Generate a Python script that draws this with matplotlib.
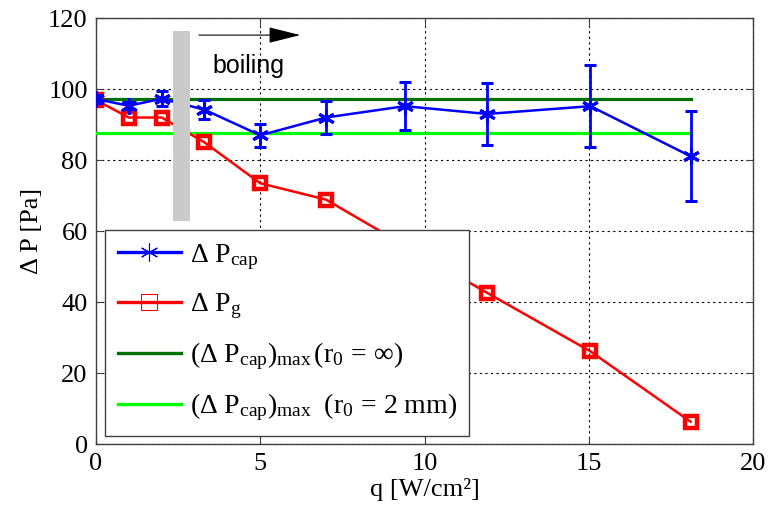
import numpy as np
import matplotlib
matplotlib.use("Agg")
import matplotlib.pyplot as plt
from matplotlib.lines import Line2D

plt.rcParams['font.family'] = ['Liberation Serif', 'DejaVu Serif']
plt.rcParams['mathtext.fontset'] = 'custom'
plt.rcParams['mathtext.rm'] = 'Liberation Serif'
plt.rcParams['mathtext.it'] = 'Liberation Serif:italic'
plt.rcParams['mathtext.bf'] = 'Liberation Serif:bold'

# data
q = [0.0, 1.0, 2.0, 3.3, 5.0, 7.0, 9.4, 11.9, 15.05, 18.1]
dp_cap = [97.2, 95.3, 97.3, 94.2, 87.0, 92.0, 95.2, 93.0, 95.2, 81.1]
dp_cap_err = [1.0, 1.0, 2.1, 2.6, 3.2, 4.7, 6.8, 8.7, 11.5, 12.7]
dp_g = [96.9, 92.0, 92.0, 85.0, 73.5, 68.9, 56.0, 42.7, 26.2, 6.4]
dp_max_inf = 97.2
dp_max_2mm = 87.7
q_max_line = [0.0, 18.1]
boiling_band = (2.35, 2.86, 62.9, 116.3)  # x0, x1, y0, y1

asterisk = (6, 2, 0)

fig = plt.figure(figsize=(7.72, 5.15), dpi=100)
ax = fig.add_axes([0.1244, 0.137, 0.851, 0.828])

# horizontal capillary limits
ax.plot(q_max_line, [dp_max_inf, dp_max_inf], color='#007000', lw=2.3, zorder=3)
ax.plot(q_max_line, [dp_max_2mm, dp_max_2mm], color='#00ff00', lw=2.3, zorder=3)

# measured curves
ax.errorbar(q, dp_cap, yerr=dp_cap_err, color='#0000ff', lw=1.8, elinewidth=2,
            capsize=4, capthick=2, marker=asterisk, ms=12, mew=2.2, zorder=5)
ax.plot(q, dp_g, color='#ff0000', lw=1.8, marker='s', ms=9, mew=3.2,
        mfc='none', mec='#ff0000', zorder=4)

# boiling onset band and arrow
ax.fill_between([boiling_band[0], boiling_band[1]], boiling_band[2], boiling_band[3],
                color='#cacaca', lw=0, zorder=6)
ax.annotate('', xy=(6.3, 115.2), xytext=(3.05, 115.2),
            arrowprops=dict(arrowstyle='-|>,head_length=1.0,head_width=0.25',
                            color='black', lw=0.8, mutation_scale=20), zorder=7)
ax.text(3.55, 106.5, 'boiling', fontsize=18, family=['Liberation Sans', 'DejaVu Sans'],
        va='center', ha='left', zorder=7)

ax.set_xlim(0, 20)
ax.set_ylim(0, 120)
ax.set_xticks([0, 5, 10, 15, 20])
ax.set_yticks([0, 20, 40, 60, 80, 100, 120])
ax.tick_params(direction='in', length=5, labelsize=19, top=True, right=True,
               color='#404040', pad=6)
for s in ax.spines.values():
    s.set_color('#404040')
    s.set_linewidth(1.0)
ax.grid(True, linestyle=(0, (2, 3)), color='black', lw=0.8)
ax.set_axisbelow(True)

ax.set_xlabel('q [W/cm²]', fontsize=19, labelpad=2)
ax.set_ylabel('Δ P [Pa]', fontsize=19, labelpad=4)

handles = [
    Line2D([], [], color='#0000ff', lw=2.4, marker=asterisk, ms=13, mew=0.8),
    Line2D([], [], color='#ff0000', lw=2.4, marker='s', ms=11, mew=0.8, mfc='none'),
    Line2D([], [], color='#007000', lw=2.4),
    Line2D([], [], color='#00ff00', lw=2.4),
]
labels = [
    r'$\Delta\ \mathrm{P_{cap}}$',
    r'$\Delta\ \mathrm{P_{g}}$',
    r'$(\Delta\ \mathrm{P_{cap}})_{\mathrm{max}}\,(\mathrm{r_0}\,=\,\infty)$',
    r'$(\Delta\ \mathrm{P_{cap}})_{\mathrm{max}}\ \ (\mathrm{r_0}\,=\,2\ \mathrm{mm})$',
]
leg = ax.legend(handles, labels, loc='lower left', bbox_to_anchor=(0.0137, 0.02),
                fontsize=20, frameon=True, fancybox=False, framealpha=1,
                edgecolor='#404040', handlelength=2.3, handletextpad=0.3,
                labelspacing=0.7, borderpad=0.45, borderaxespad=0)
leg.get_frame().set_linewidth(1.0)
leg.set_zorder(10)

fig.savefig('out.png', dpi=100)
